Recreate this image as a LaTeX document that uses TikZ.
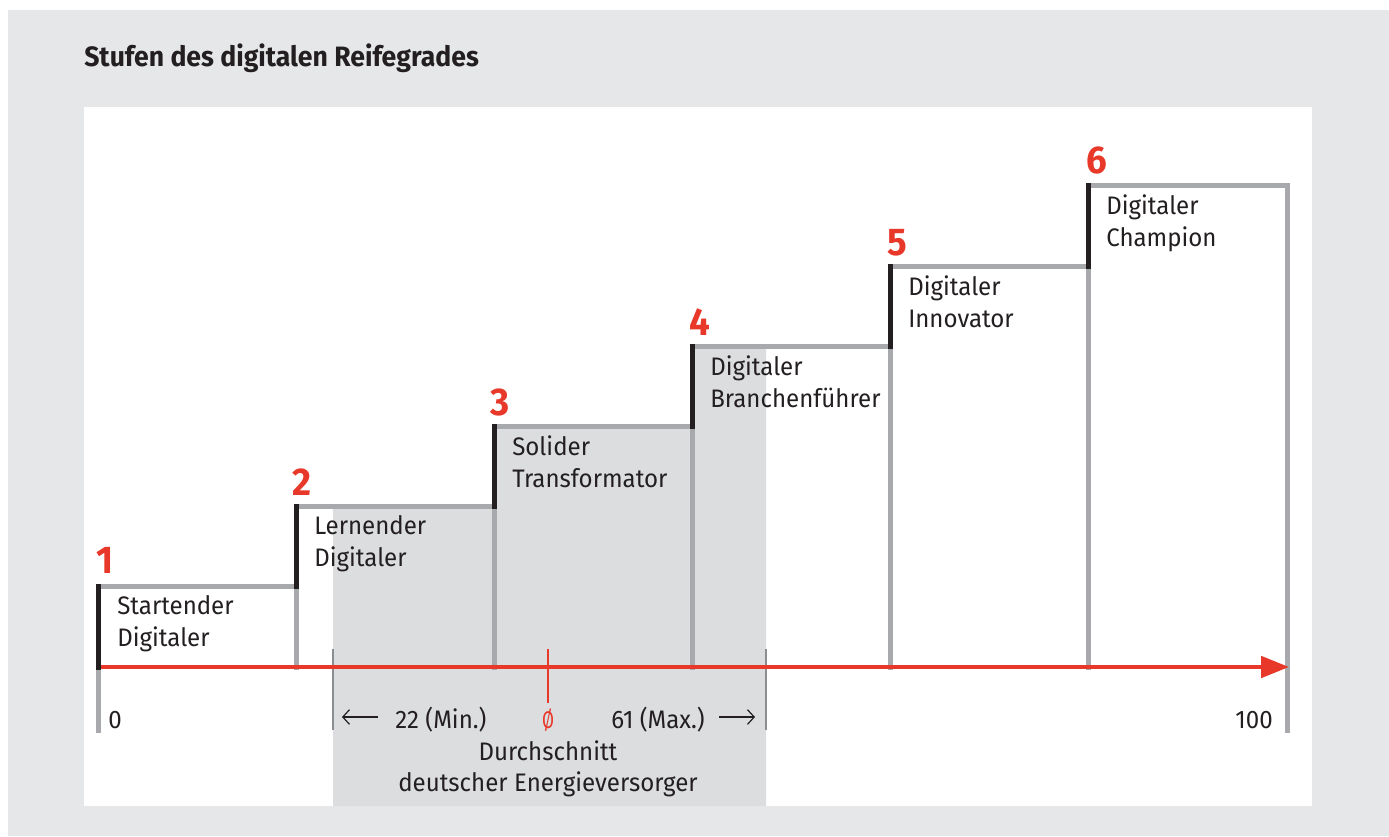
\documentclass[tikz,border=0pt]{standalone}
\usepackage{fontspec}
\usepackage{graphicx}
\setmainfont{Fira Sans}[FakeStretch=0.95]
\usetikzlibrary{arrows.meta}
\definecolor{bg}{HTML}{E6E7E9}
\definecolor{rangegrey}{HTML}{DCDDDF}
\definecolor{stepgrey}{HTML}{A7A9AC}
\definecolor{ink}{HTML}{231F20}
\definecolor{accent}{HTML}{E8382A}
\definecolor{tickgrey}{HTML}{8C8E91}
\begin{document}
\begin{tikzpicture}[x=0.75pt,y=-0.75pt,
  steptxt/.style={anchor=north west, align=left, inner sep=0pt, text=ink, font=\fontsize{19}{24}\selectfont},
  stepnum/.style={anchor=base west, inner sep=0pt, text=accent, font=\fontsize{29}{32}\selectfont\bfseries},
  axtxt/.style={anchor=base, inner sep=0pt, text=ink, font=\fontsize{19}{24}\selectfont},
  greyline/.style={draw=stepgrey, line width=3.75pt, line cap=rect},
  blackline/.style={draw=ink, line width=3.75pt, line cap=rect},
  tickline/.style={draw=tickgrey, line width=1.6pt},
  thinarrow/.style={draw=ink, line width=0.9pt, -{Straight Barb[length=5pt,width=11pt]}}
]
\useasboundingbox (0,0) rectangle (1389,836);
\fill[bg] (8,10) rectangle (1389,836);
\fill[white] (84,107) rectangle (1312,806);
% shaded range of German utilities
\fill[rangegrey] (333,506) -- (494,506) -- (494,426) -- (692,426) -- (692,346)
  -- (766,346) -- (766,806) -- (333,806) -- cycle;
% title
\node[anchor=base west, inner sep=0pt, text=ink, font=\fontsize{21}{24}\selectfont\bfseries] (title) at (84,66) {Stufen des digitalen Reifegrades};
% steps (grey treads and risers)
\foreach \x/\t/\nx in {98/586/296, 296/506/494, 494/426/692, 692/346/890, 890/266/1088, 1088/185/1287} {
  \draw[greyline] (\x,\t) -- (\nx,\t) -- (\nx,667);
}
\draw[greyline] (1287,667) -- (1287,730);
\draw[greyline] (98,667) -- (98,730);
% black risers
\foreach \x/\a/\b in {98/586/667, 296/506/586, 494/426/506, 692/346/426, 890/266/346, 1088/185/266} {
  \draw[blackline] (\x,\a) -- (\x,\b);
}
% range ticks
\coordinate (minT) at (333,649);
\coordinate (minB) at (333,730);
\coordinate (maxT) at (766,649);
\coordinate (maxB) at (766,730);
\draw[tickline] (minT) -- (minB);
\draw[tickline] (maxT) -- (maxB);
% axis
\coordinate (axL) at (100.5,667);
\coordinate (axR) at (1289,667);
\draw[draw=accent, line width=3pt, -{Triangle[length=21pt,width=16pt]}] (axL) -- (axR);
% average tick
\coordinate (avT) at (548,649);
\coordinate (avB) at (548,703);
\draw[draw=accent, line width=1.6pt] (avT) -- (avB);
% step numbers
\node[stepnum] (n1) at (96,573) {1};
\node[stepnum] (n2) at (292,495) {2};
\node[stepnum] (n3) at (490,415) {3};
\node[stepnum] (n4) at (689,335) {4};
\node[stepnum] (n5) at (887,255) {5};
\node[stepnum] (n6) at (1086,173) {6};
% step labels
\node[steptxt] (s1) at (117,595) {Startender\\Digitaler};
\node[steptxt] (s2) at (314,515) {Lernender\\Digitaler};
\node[steptxt] (s3) at (512,435) {Solider\\Transformator};
\node[steptxt] (s4) at (710,355) {Digitaler\\Branchenführer};
\node[steptxt] (s5) at (908,275) {Digitaler\\Innovator};
\node[steptxt] (s6) at (1106,194) {Digitaler\\Champion};
% axis labels
\node[axtxt, anchor=base west] (zero) at (108,728) {0};
\node[axtxt, anchor=base east] (hundred) at (1273,728) {100};
\node[axtxt, anchor=base west] (min) at (395,728) {22 (Min.)};
\node[axtxt, anchor=base east] (max) at (705,728) {61 (Max.)};
\node[axtxt, text=accent] (avg) at (548,728) {\scalebox{0.72}[0.95]{Ø}};
\coordinate (laS) at (378,717);
\coordinate (laE) at (342,717);
\coordinate (raS) at (719,717);
\coordinate (raE) at (755,717);
\draw[thinarrow] (laS) -- (laE);
\draw[thinarrow] (raS) -- (raE);
\node[axtxt] (d1) at (548,760) {Durchschnitt};
\node[axtxt] (d2) at (548,791) {deutscher Energieversorger};
\end{tikzpicture}
\end{document}
